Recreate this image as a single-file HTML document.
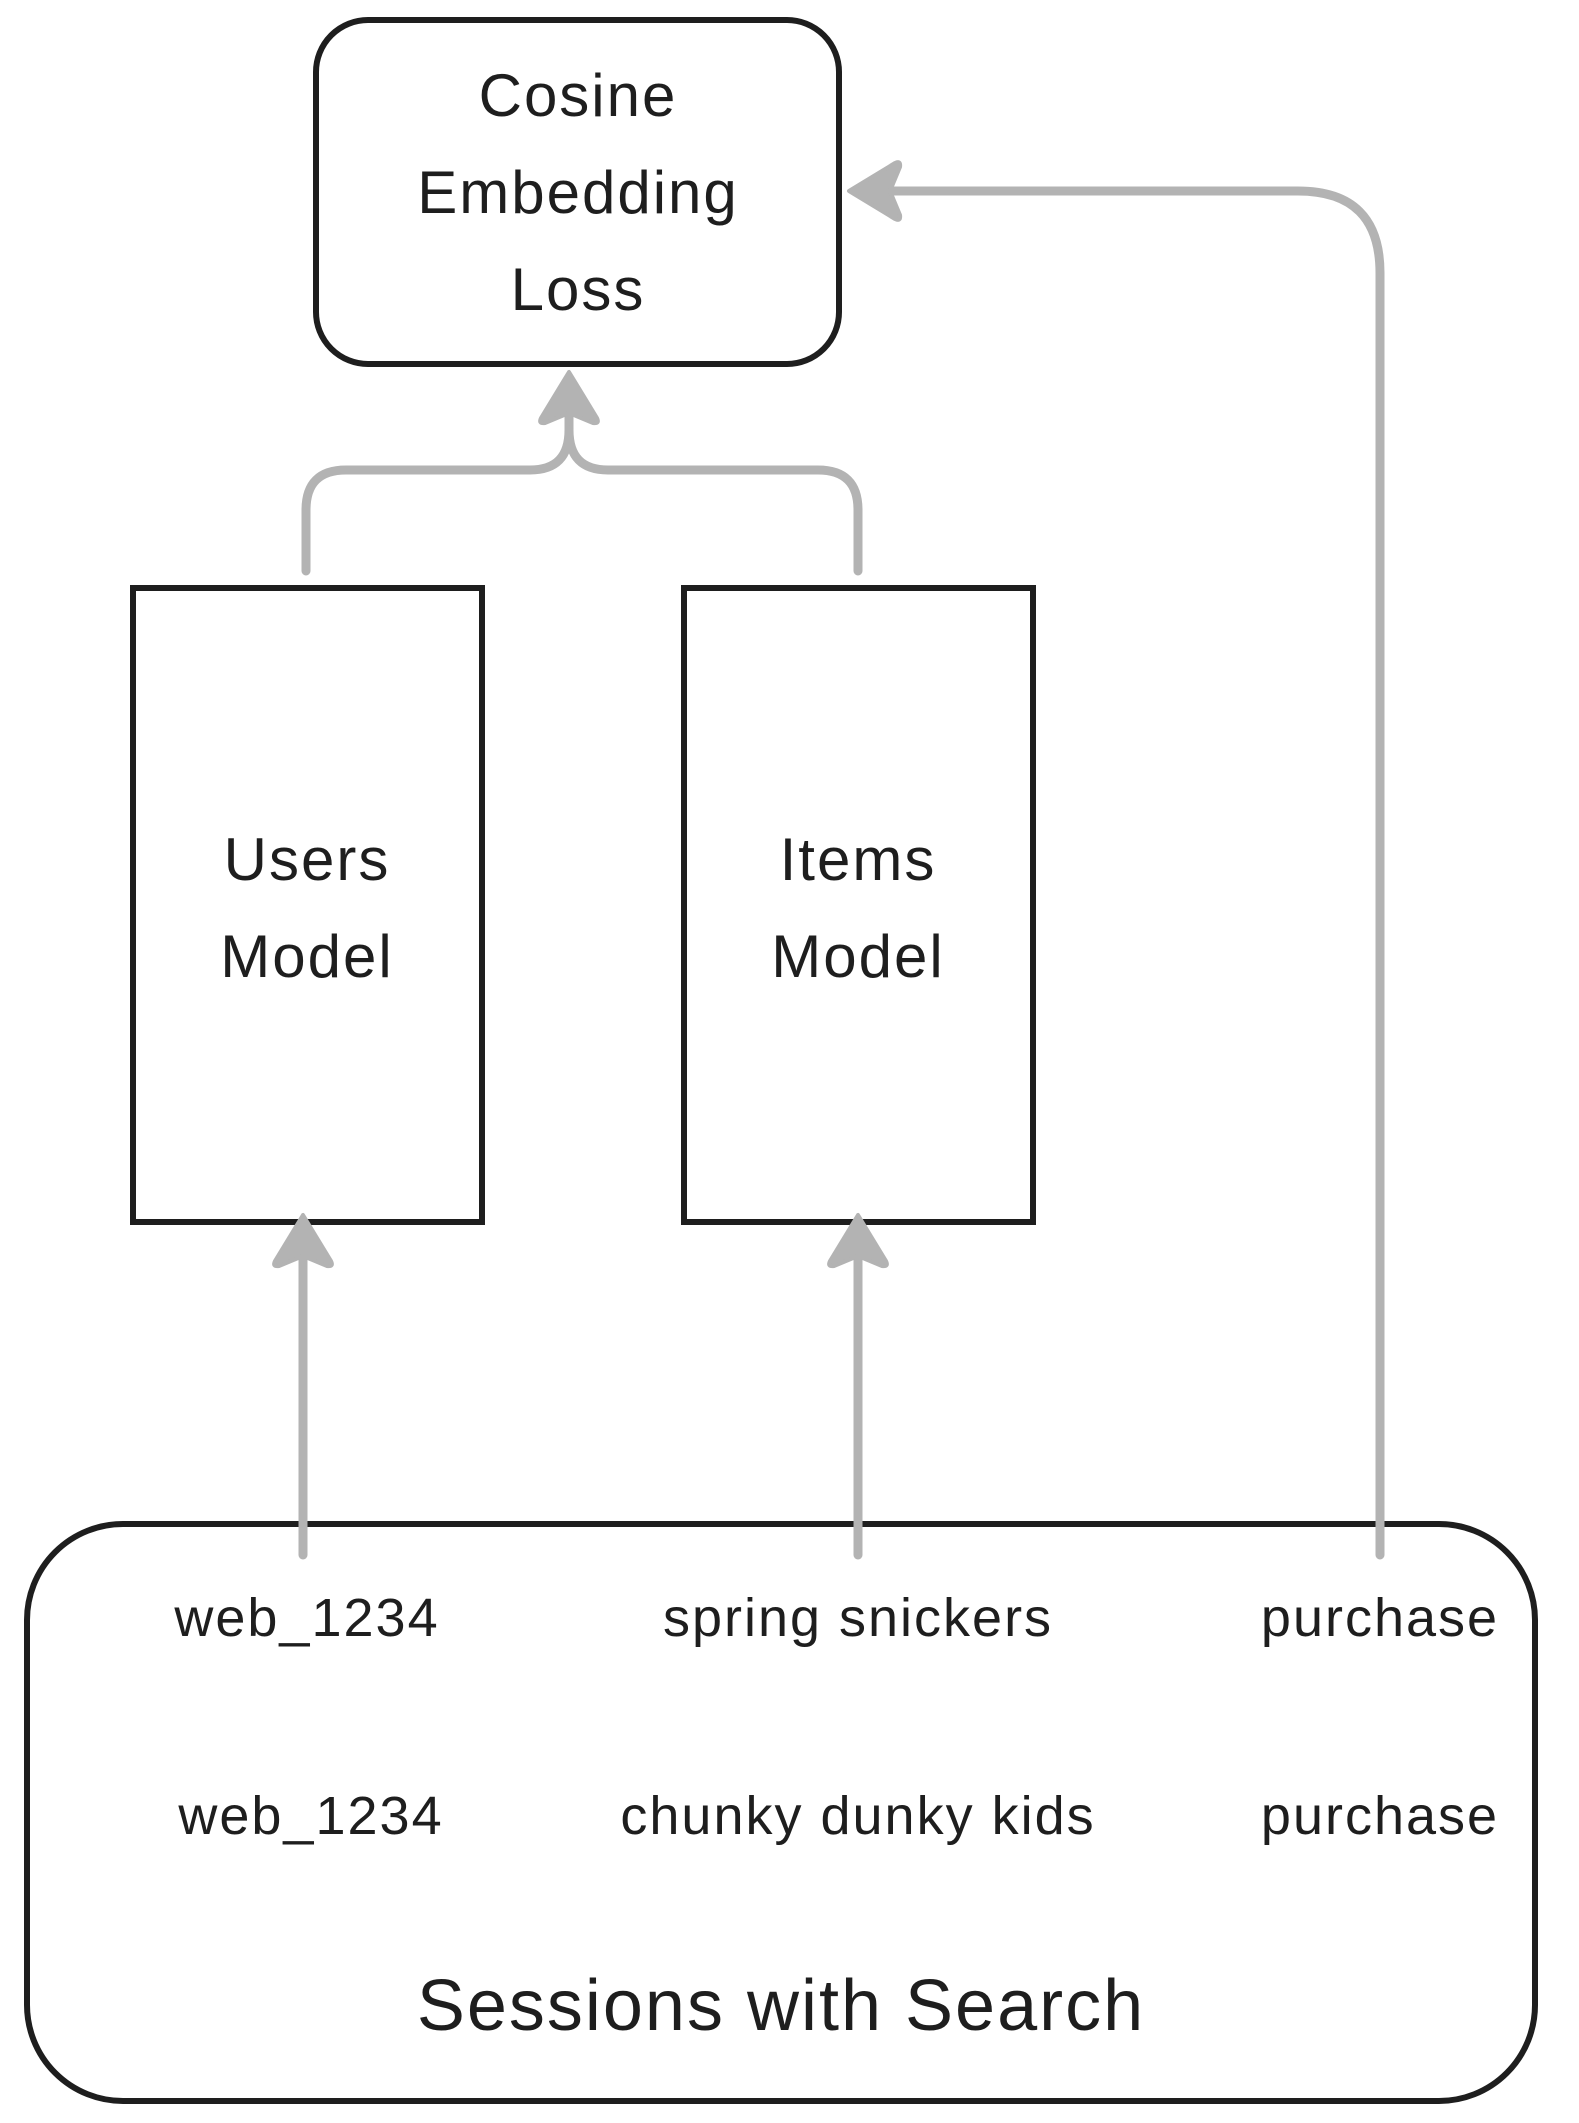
<!DOCTYPE html>
<html><head><style>
body{margin:0;background:#fff}
svg text{font-family:"Liberation Sans",sans-serif;fill:#1e1e1e;text-anchor:middle}
</style></head><body>
<svg width="1579" height="2118" viewBox="0 0 1579 2118" xmlns="http://www.w3.org/2000/svg">
<defs>
<path id="ah" d="M0,-2 L-28,44 Q-31,50 -24,49 L0,39 L24,49 Q31,50 28,44 Z" fill="#b3b3b3" stroke="#b3b3b3" stroke-width="4" stroke-linejoin="round"/>
</defs>
<g fill="none" stroke="#1e1e1e" stroke-width="6">
<rect x="316" y="20" width="523" height="344" rx="52"/>
<rect x="133" y="588" width="349" height="634"/>
<rect x="684" y="588" width="349" height="634"/>
<rect x="27" y="1524" width="1508" height="577" rx="96"/>
</g>
<g fill="none" stroke="#b3b3b3" stroke-width="9" stroke-linecap="round">
<path d="M306,571 V510 Q306,470 346,470 H530 Q569,470 569,430 V412"/>
<path d="M858,571 V510 Q858,470 818,470 H608 Q569,470 569,430"/>
<path d="M303,1555 V1258"/>
<path d="M858,1555 V1258"/>
<path d="M1380,1555 V273 Q1380,191 1298,191 H890"/>
</g>
<use href="#ah" transform="translate(569,374)"/>
<use href="#ah" transform="translate(303,1217)"/>
<use href="#ah" transform="translate(858,1217)"/>
<use href="#ah" transform="translate(851,191) rotate(-90)"/>
<g font-size="60" letter-spacing="2">
<text x="578" y="116">Cosine</text>
<text x="578" y="213">Embedding</text>
<text x="578" y="310">Loss</text>
<text x="307" y="880">Users</text>
<text x="307" y="977">Model</text>
<text x="858" y="880">Items</text>
<text x="858" y="977">Model</text>
</g>
<g font-size="54" letter-spacing="2">
<text x="307" y="1636">web_1234</text>
<text x="858" y="1636">spring snickers</text>
<text x="1380" y="1636">purchase</text>
<text x="311" y="1834">web_1234</text>
<text x="858" y="1834">chunky dunky kids</text>
<text x="1380" y="1834">purchase</text>
</g>
<text x="781" y="2030" font-size="72" letter-spacing="2">Sessions with Search</text>
</svg>
</body></html>
